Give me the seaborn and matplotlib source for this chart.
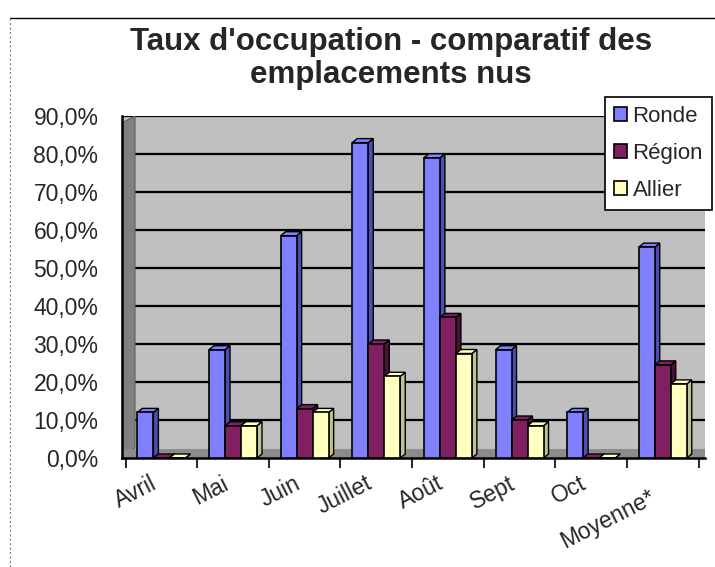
import numpy as np
import pandas as pd
import matplotlib
matplotlib.use("Agg")
import matplotlib.pyplot as plt
import seaborn as sns
from matplotlib.patches import Polygon
from matplotlib.lines import Line2D
from matplotlib.ticker import FuncFormatter, MultipleLocator
import matplotlib.transforms as mtransforms

# Donnees (en %)
mois = ["Avril", "Mai", "Juin", "Juillet", "Août", "Sept", "Oct", "Moyenne*"]
ronde = [12.0, 28.5, 58.5, 83.0, 79.0, 28.5, 12.0, 55.5]
region = [0.0, 8.5, 13.0, 30.0, 37.0, 10.0, 0.0, 24.5]
allier = [0.0, 8.5, 12.0, 21.5, 27.5, 8.5, 0.0, 19.5]
series = ["Ronde", "Région", "Allier"]

couleurs = {"Ronde": "#8080FF", "Région": "#802060", "Allier": "#FFFFC0"}
cotes = {"Ronde": "#4D4DB3", "Région": "#4A1038", "Allier": "#C2C28E"}

df = pd.DataFrame({"mois": mois * 3,
                   "serie": ["Ronde"] * 8 + ["Région"] * 8 + ["Allier"] * 8,
                   "taux": ronde + region + allier})

sns.set_style("white")
plt.rcParams["font.family"] = ["Liberation Sans", "DejaVu Sans"]

W, H = 715, 567
fig = plt.figure(figsize=(W / 100, H / 100), dpi=100)
fig.patch.set_facecolor("white")

ax_l, ax_r, ax_b, ax_t = 122, 705, 458, 116
ax = fig.add_axes([ax_l / W, 1 - ax_b / H, (ax_r - ax_l) / W, (ax_b - ax_t) / H])
ax.set_facecolor("#C0C0C0")

sns.barplot(data=df, x="mois", y="taux", hue="serie", hue_order=series,
            palette=couleurs, width=0.67, edgecolor="black", linewidth=1.2,
            saturation=1, ax=ax, legend=True, zorder=3)

xmax = 7.5 + (ax_r - 695) / 71.6
ax.set_xlim(-0.55, xmax - 0.05)
ax.set_ylim(0, 90)

# effet 3D sur les barres
px_x = (xmax + 0.5) / (ax_r - ax_l)
px_y = 90 / (ax_b - ax_t)
dx, dy = 5 * px_x, 4 * px_y
n = len(mois)
for i, p in enumerate(ax.patches[:3 * n]):
    s = series[i // n]
    x0, w, h = p.get_x(), p.get_width(), p.get_height()
    side = Polygon([(x0 + w, 0), (x0 + w + dx, dy), (x0 + w + dx, h + dy), (x0 + w, h)],
                   closed=True, facecolor=cotes[s], edgecolor="black", lw=1.0, zorder=2.5)
    top = Polygon([(x0, h), (x0 + dx, h + dy), (x0 + w + dx, h + dy), (x0 + w, h)],
                  closed=True, facecolor=couleurs[s], edgecolor="black", lw=1.0, zorder=2.5)
    ax.add_patch(side)
    ax.add_patch(top)

# grille et murs
ax.yaxis.set_major_locator(MultipleLocator(10))
ax.yaxis.set_major_formatter(FuncFormatter(lambda v, pos: f"{v:.1f}%".replace(".", ",")))
ax.grid(axis="y", color="black", lw=1.6, zorder=1)
ax.set_axisbelow(True)
wall = Polygon([(0, 0), (13 / (ax_r - ax_l), 0.03), (13 / (ax_r - ax_l), 1.0), (0, 0.98)],
               closed=True, transform=ax.transAxes, facecolor="#808080",
               edgecolor="#606060", lw=0.8, zorder=1.5)
ax.add_patch(wall)
floor = Polygon([(0, 0), (1, 0), (1, 0.025), (0, 0.025)], closed=True,
                transform=ax.transAxes, facecolor="#8C8C8C", edgecolor="none", zorder=1.6)
ax.add_patch(floor)

for sp in ["top", "right"]:
    ax.spines[sp].set_visible(False)
ax.spines["left"].set_color("black")
ax.spines["left"].set_linewidth(1.8)
ax.spines["bottom"].set_color("black")
ax.spines["bottom"].set_linewidth(1.8)

ax.set_xlabel("")
ax.set_ylabel("")
ax.tick_params(axis="y", direction="out", length=7, width=1.2, color="black",
               labelsize=16.5, pad=10)
ax.tick_params(axis="x", direction="out", length=0, labelsize=16.5, pad=8)

# ticks de categorie aux bords
ax.set_xticks(np.arange(n))
ax.set_xticks(np.arange(n + 1) - 0.5, minor=True)
ax.tick_params(axis="x", which="minor", length=7, width=1.2, color="black", bottom=True)
ax.set_xticklabels(mois, rotation=27, ha="right", va="top", rotation_mode="anchor")
for lbl in ax.get_xticklabels():
    off = mtransforms.ScaledTranslation(-8 / 72, -2 / 72, fig.dpi_scale_trans)
    if lbl.get_text() == "Moyenne*":
        off = mtransforms.ScaledTranslation(-10 / 72, -12 / 72, fig.dpi_scale_trans)
    lbl.set_transform(lbl.get_transform() + off)

# legende
handles, labels = ax.get_legend_handles_labels()
ax.get_legend().remove()
leg = fig.legend(handles, labels, loc="upper right",
                 bbox_to_anchor=(712 / W, 1 - 97 / H), frameon=True, fancybox=False,
                 edgecolor="black", framealpha=1, fontsize=16, handlelength=0.6,
                 handleheight=0.6, handletextpad=0.25, labelspacing=0.72,
                 borderpad=0.4, borderaxespad=0)
leg.get_frame().set_linewidth(1.2)
for hdl in leg.legend_handles:
    hdl.set_edgecolor("black")
    hdl.set_linewidth(1.2)

# titre
fig.text(391 / W, 1 - 42 / H, "Taux d'occupation - comparatif des", ha="center",
         va="center", fontsize=22.5, fontweight="bold")
fig.text(391 / W, 1 - 75 / H, "emplacements nus", ha="center", va="center",
         fontsize=22.5, fontweight="bold")

# cadre du graphique
fig.add_artist(Line2D([10 / W, 1], [1 - 18 / H, 1 - 18 / H], transform=fig.transFigure,
                      color="black", lw=1))
fig.add_artist(Line2D([10 / W, 10 / W], [0, 1 - 18 / H], transform=fig.transFigure,
                      color="#808080", lw=0.8, ls=(0, (2, 2))))

fig.savefig("out.png", dpi=100)
